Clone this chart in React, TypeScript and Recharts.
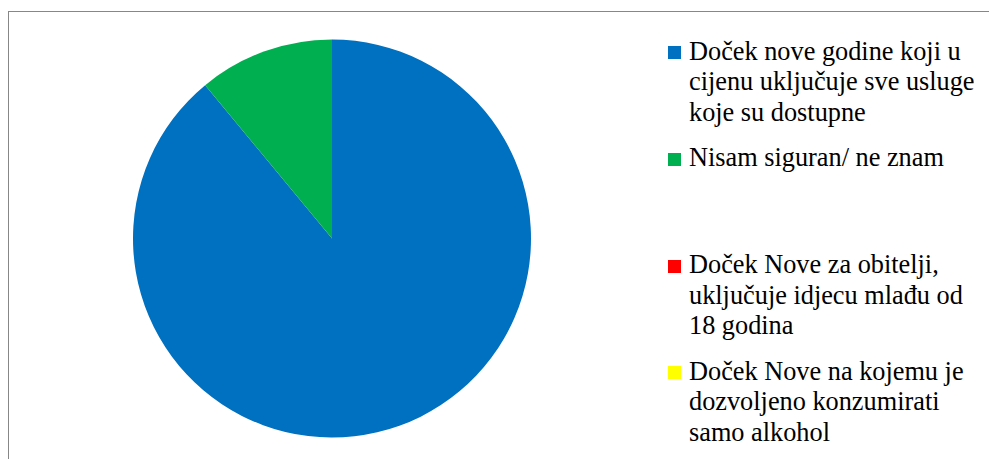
import { PieChart, Pie, Cell } from "recharts";

const CATEGORIES = [
  "Doček nove godine koji u cijenu uključuje sve usluge koje su dostupne",
  "Nisam siguran/ ne znam",
  "Doček Nove za obitelji, uključuje idjecu mlađu od 18 godina",
  "Doček Nove na kojemu je dozvoljeno konzumirati samo alkohol",
];
const SHARES = [89, 11, 0, 0];
const COLORS = ["#0070C0", "#00B050", "#FF0000", "#FFFF00"];

const chartData = CATEGORIES.map((name, i) => ({ name, value: SHARES[i] }));

const FONT = "Liberation Serif";

// Excel-style legend: equal slots, square markers, serif text
function ChartLegend() {
  return (
    <div
      style={{
        position: "absolute",
        left: 668,
        top: 36.8,
        width: 320,
        fontFamily: FONT,
        fontSize: 26.3,
        lineHeight: "30.6px",
        color: "#000",
      }}
    >
      {CATEGORIES.map((name, i) => (
        <div key={name} style={{ position: "relative", height: 106.7, paddingLeft: 21 }}>
          <span
            style={{
              position: "absolute",
              left: 0,
              top: 9.5,
              width: 13,
              height: 13,
              background: COLORS[i],
            }}
          />
          <div style={{ width: 289 }}>{name}</div>
        </div>
      ))}
    </div>
  );
}

export default function App() {
  return (
    <div
      style={{
        position: "absolute",
        left: 0,
        top: 0,
        width: 989,
        height: 459,
        overflow: "hidden",
        background: "#fff",
      }}
    >
      <div
        style={{
          position: "absolute",
          left: 8,
          top: 11,
          width: 1100,
          height: 600,
          borderTop: "1.5px solid #878787",
          borderLeft: "1.5px solid #878787",
        }}
      />
      <div style={{ position: "absolute", left: 0, top: 0 }}>
        <PieChart width={989} height={459} margin={{ top: 0, right: 0, bottom: 0, left: 0 }}>
          <Pie
            data={chartData}
            dataKey="value"
            nameKey="name"
            cx={332}
            cy={238.5}
            outerRadius={199}
            startAngle={90}
            endAngle={-270}
            stroke="none"
            isAnimationActive={false}
          >
            {chartData.map((_, i) => (
              <Cell key={i} fill={COLORS[i]} />
            ))}
          </Pie>
        </PieChart>
      </div>
      <ChartLegend />
    </div>
  );
}
